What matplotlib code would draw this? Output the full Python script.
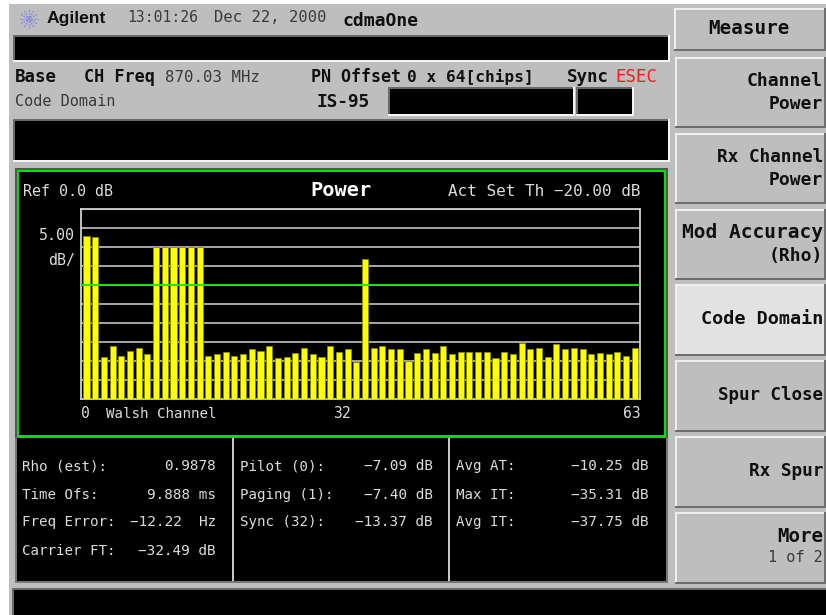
#!/usr/bin/env python3
import numpy as np
import matplotlib
matplotlib.use("Agg")
import matplotlib.pyplot as plt
from matplotlib.patches import Rectangle

# code domain power per walsh channel, dB
power = [-7.09, -7.40, -38.9, -36.0, -38.6, -37.3, -36.6, -38.2,
         -10.15, -10.15, -10.15, -10.15, -10.15, -10.15,
         -38.6, -38.2, -37.6, -38.6, -38.2, -36.9, -37.3, -36.0, -39.3, -38.9,
         -38.0, -36.6, -38.2, -38.9, -36.0, -37.6, -36.9, -40.2,
         -13.37, -36.6, -36.0, -36.9, -36.9, -39.9, -38.0, -36.9, -38.0, -36.0,
         -38.2, -37.6, -37.6, -37.6, -37.6, -39.3, -37.6, -38.2, -35.31, -36.9,
         -36.6, -38.9, -35.6, -36.9, -36.6, -36.9, -38.2, -38.0, -38.2, -37.6,
         -38.6, -36.6]
channels = list(range(len(power)))
ref_level = 0.0
db_per_div = 5.0
threshold = -20.0

col1 = [("Rho (est):", "0.9878"), ("Time Ofs:", "9.888 ms"),
        ("Freq Error:", "\u221212.22  Hz"), ("Carrier FT:", "\u221232.49 dB")]
col2 = [("Pilot (0):", "\u22127.09 dB"), ("Paging (1):", "\u22127.40 dB"),
        ("Sync (32):", "\u221213.37 dB")]
col3 = [("Avg AT:", "\u221210.25 dB"), ("Max IT:", "\u221235.31 dB"),
        ("Avg IT:", "\u221237.75 dB")]
row_y = [466, 495, 522, 551]

W, H = 826, 615
GRAY = "#bebebe"
THIN = dict(family="DejaVu Sans Mono", fontsize=10.6, va="center")
BOLD = dict(family="DejaVu Sans Mono", fontsize=12.2, fontweight="bold", va="center", color="#101010")

fig = plt.figure(figsize=(W / 100, H / 100), dpi=100, facecolor="white")

# whole figure in pixel coords for the instrument screen
bg = fig.add_axes([0, 0, 1, 1])
bg.set_xlim(0, W)
bg.set_ylim(H, 0)
bg.axis("off")


def rect(x0, y0, x1, y1, color, z=1):
    bg.add_patch(Rectangle((x0, y0), x1 - x0, y1 - y0, facecolor=color, edgecolor="none", zorder=z))


def sunken(x0, y0, x1, y1):
    rect(x0 - 2, y0 - 2, x1 + 2, y1 + 2, "#f4f4f4", 2)
    rect(x0 - 2, y0 - 2, x1, y1, "#6a6a6a", 2)
    rect(x0, y0, x1, y1, "black", 3)


def button(x0, y0, x1, y1, color="#bebebe"):
    rect(x0, y0, x1, y1, "#6e6e6e", 2)
    rect(x0, y0, x1 - 2, y1 - 2, "#efefef", 2)
    rect(x0 + 2, y0 + 2, x1 - 2, y1 - 2, color, 3)


rect(9, 4, W, 590, GRAY)
rect(9, 590, W, H, GRAY)

# black bars
sunken(15, 37, 668, 60)
sunken(15, 121, 668, 160)
sunken(390, 89, 573, 114)
sunken(578, 89, 632, 114)
sunken(14, 590, W, H + 5)

# green frame round the trace
rect(15, 168, 668, 439, "#555555", 2)
rect(17, 170, 666, 438, "#00e000", 3)
rect(19, 172, 664, 435, "black", 4)

# results table
rect(15, 438, 668, 583, "#777777", 2)
rect(17, 438, 666, 581, "black", 4)
rect(17, 436, 666, 438, "#00e000", 5)
for x in [233, 449]:
    rect(x - 1, 438, x + 1, 581, "#c8c8c8", 5)

# softkeys
button(674, 8, W, 51)
button(675, 57, W, 128)
button(675, 133, W, 204)
button(675, 209, W, 280)
button(675, 284, W, 356, "#e2e2e2")
button(675, 360, W, 432)
button(675, 436, W, 508)
button(675, 512, W, 584)


def put(x, y, s, style=THIN, ha="left", color="#3a3a3a", size=None, z=6):
    kw = dict(style)
    kw.setdefault("color", color)
    if size:
        kw["fontsize"] = size
    bg.text(x, y, s, ha=ha, zorder=z, **kw)


# logo
for a in np.arange(0, 180, 30):
    t = np.deg2rad(a)
    bg.plot([29 - 9 * np.cos(t), 29 + 9 * np.cos(t)], [19 - 9 * np.sin(t), 19 + 9 * np.sin(t)],
            color="#7f7fe8", lw=1.0, ls=(0, (1, 1)), zorder=6)

bg.text(47, 18.5, "Agilent", family="Liberation Sans", fontweight="bold", fontsize=12.6,
        va="center", ha="left", color="#101010", zorder=6)
put(127, 18, "13:01:26")
put(214, 18, "Dec 22, 2000", size=11.2)
put(343, 21, "cdmaOne", BOLD, size=13)

put(15, 77, "Base", BOLD, size=12.6)
put(84, 77, "CH Freq", BOLD)
put(165, 77, "870.03 MHz", size=11.3)
put(311, 77, "PN Offset", BOLD, size=12)
put(407, 77, "0 x 64[chips]", BOLD, size=11.6)
put(567, 77, "Sync", BOLD, size=12.6)
put(615, 77, "ESEC", color="#f02020", size=12.6)
put(15, 102, "Code Domain", size=11)
put(317, 102, "IS-95", BOLD, size=12.8)

WHITE = "#dcdcdc"
put(23, 192, "Ref 0.0 dB", color=WHITE, size=10.8)
put(341.5, 190, "Power", BOLD, ha="center", size=14.6)
bg.texts[-1].set_color("white")
put(641, 192, "Act Set Th \u221220.00 dB", ha="right", color=WHITE, size=11.5)
put(75, 235, "5.00", ha="right", color=WHITE, size=10.8)
put(75, 260, "dB/", ha="right", color=WHITE, size=10.8)
put(81, 414, "0", color=WHITE)
put(106, 414, "Walsh Channel", color=WHITE, size=10.2)
put(342, 414, "32", ha="center", color=WHITE)
put(641, 414, "63", ha="right", color=WHITE)

for rows, xl, xr in [(col1, 22, 216), (col2, 240, 433), (col3, 456, 649)]:
    for (name, val), y in zip(rows, row_y):
        put(xl, y, name, color=WHITE, size=10.2)
        put(xr, y, val, ha="right", color=WHITE, size=10.4)

put(749, 29, "Measure", BOLD, ha="center", size=13.9)
for y, s, fs in [(81, "Channel", 13), (104, "Power", 13), (157, "Rx Channel", 12.8), (180, "Power", 13),
                 (232, "Mod Accuracy", 14), (256, "(Rho)", 13), (319, "Code Domain", 13.3),
                 (395, "Spur Close", 12.6), (471, "Rx Spur", 12.8), (536, "More", 13.8)]:
    put(823, y, s, BOLD, ha="right", size=fs)
put(823, 558, "1 of 2", ha="right", size=11)

# the trace itself
floor = ref_level - 10 * db_per_div
ax = fig.add_axes([81 / W, 1 - 399 / H, 559 / W, 190.5 / H], facecolor="black", zorder=5)
ax.bar(channels, np.array(power) - floor, width=0.7, bottom=floor, color="#ffff00",
       edgecolor="#8c8c00", linewidth=0.6, zorder=3)
ax.set_xlim(-0.63, 63.6)
ax.set_ylim(floor, ref_level)
ax.set_yticks(np.arange(floor, ref_level + 1, db_per_div))
ax.set_xticks([])
ax.tick_params(left=False, labelleft=False)
ax.grid(axis="y", color="#c4c4c4", lw=1.2, zorder=1)
ax.axhline(threshold, color="#00f000", lw=1.3, zorder=4)
for s in ax.spines.values():
    s.set_color("#d0d0d0")
    s.set_linewidth(1.3)

fig.savefig("out.png", dpi=100)
